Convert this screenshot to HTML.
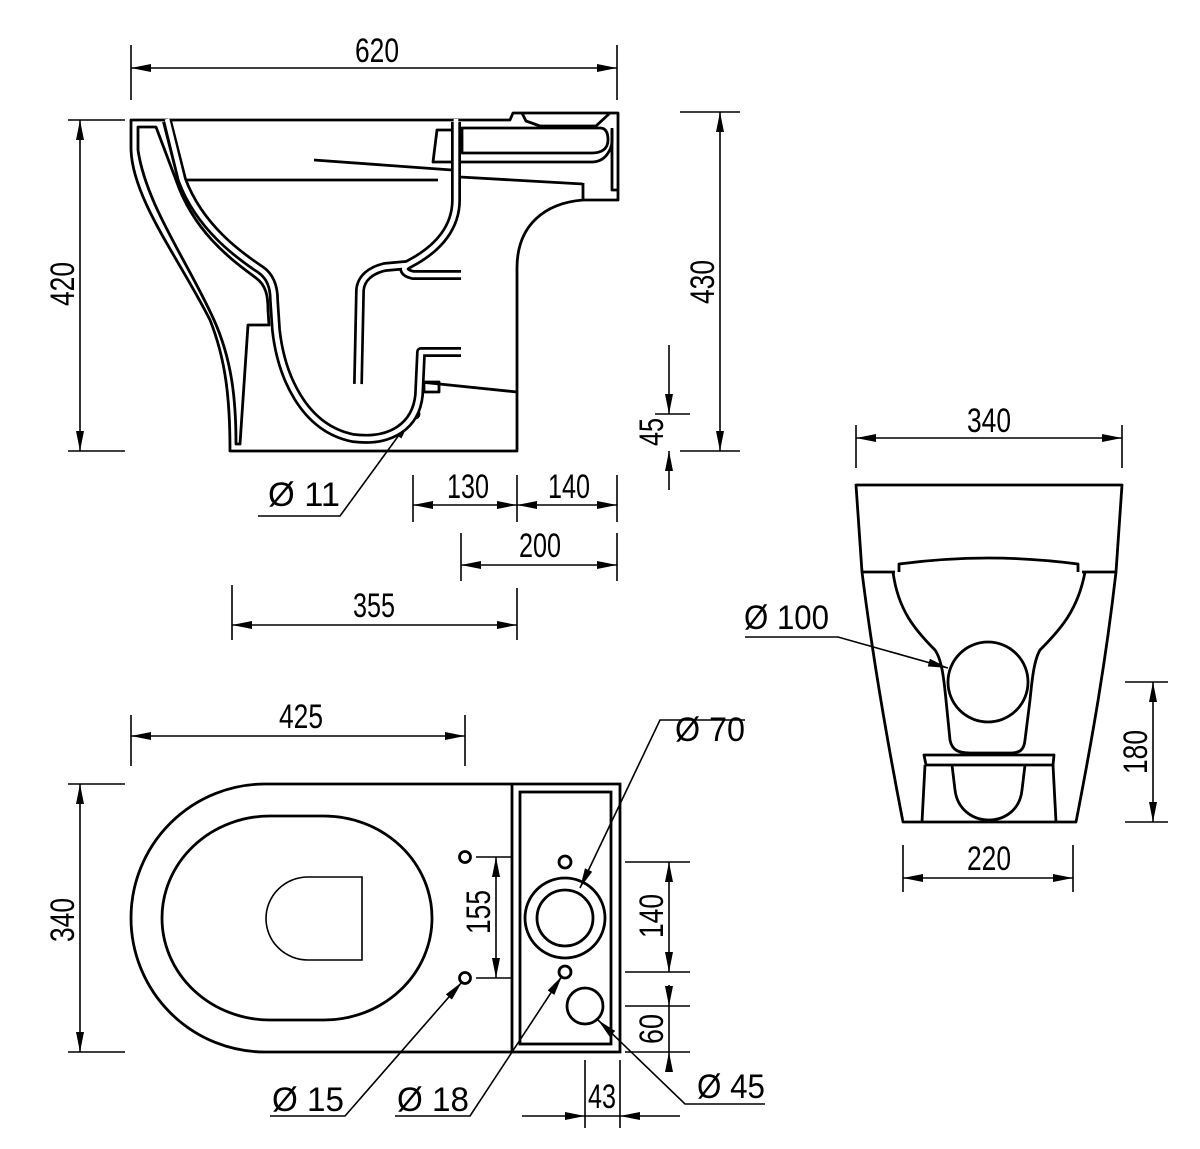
<!DOCTYPE html>
<html><head><meta charset="utf-8"><style>
html,body{margin:0;padding:0;background:#fff;}
svg{display:block;}
text{font-family:"Liberation Sans Narrow","Liberation Sans",sans-serif;font-size:34px;fill:#000;}
</style></head><body>
<svg width="1200" height="1149" viewBox="0 0 1200 1149" xmlns="http://www.w3.org/2000/svg">
<defs>
<marker id="a" viewBox="0 0 20 8" refX="20" refY="4" markerWidth="20" markerHeight="8" markerUnits="userSpaceOnUse" orient="auto-start-reverse"><path d="M0,0 L20,4 L0,8 Z" fill="#000"/></marker>
</defs>
<g fill="none" stroke="#000" stroke-width="1.6">
<line x1="131" y1="45" x2="131" y2="100"/><line x1="617" y1="45" x2="617" y2="100"/>
<line x1="131" y1="68" x2="617" y2="68" marker-start="url(#a)" marker-end="url(#a)"/>
<line x1="68" y1="120" x2="125" y2="120"/><line x1="68" y1="451" x2="125" y2="451"/>
<line x1="80" y1="120" x2="80" y2="451" marker-start="url(#a)" marker-end="url(#a)"/>
<line x1="680" y1="112" x2="740" y2="112"/><line x1="680" y1="451" x2="740" y2="451"/>
<line x1="720" y1="112" x2="720" y2="451" marker-start="url(#a)" marker-end="url(#a)"/>
<line x1="655" y1="414" x2="690" y2="414"/>
<line x1="669" y1="345" x2="669" y2="414" marker-end="url(#a)"/>
<line x1="669" y1="490" x2="669" y2="451" marker-end="url(#a)"/>
<line x1="413" y1="475" x2="413" y2="522"/><line x1="517" y1="475" x2="517" y2="522"/><line x1="617" y1="475" x2="617" y2="522"/>
<line x1="413" y1="505" x2="517" y2="505" marker-start="url(#a)" marker-end="url(#a)"/>
<line x1="517" y1="505" x2="617" y2="505" marker-start="url(#a)" marker-end="url(#a)"/>
<line x1="461" y1="533" x2="461" y2="581"/><line x1="617" y1="533" x2="617" y2="581"/>
<line x1="461" y1="565" x2="617" y2="565" marker-start="url(#a)" marker-end="url(#a)"/>
<line x1="232" y1="585" x2="232" y2="640"/><line x1="517" y1="588" x2="517" y2="640"/>
<line x1="232" y1="625" x2="517" y2="625" marker-start="url(#a)" marker-end="url(#a)"/>
<polyline points="258,516 340,516 410,420" marker-end="url(#a)"/>
</g>
<g fill="none" stroke="#000" stroke-width="2.8" stroke-linejoin="round">
<path d="M131,120 H510 L513,113 H618 V200 H583 C545,203 517,225 517,268 V451 H230 C230,400 226,360 210,320 C180,260 133,200 131,150 Z"/>
<path d="M138,127 H156 L176,180 C195,235 235,262 256,278 C266,285 268,296 268,310 L269,325 H248 L240,444 H236 C236,400 232,360 214,320 C188,262 146,205 138,150 Z"/>
<path d="M437,130 H453 V162 H433 Z"/>
<path d="M462,128 H600 C607,128 608,135 608,140 C608,150 600,153 592,153 H462 Z"/>
<path d="M460,162 H592 C605,162 612,150 612,140 V128"/>
<path d="M612,130 V190 H618"/>
<path d="M522,113 L526,121 L540,126 H596 L610,113"/>
<line x1="583" y1="183" x2="583" y2="200"/>
<path d="M420,382 L517,392"/>
<rect x="424" y="382" width="15" height="10"/>
<circle cx="415" cy="414" r="4"/>
<line x1="182" y1="180" x2="438" y2="180"/>
<line x1="314" y1="160" x2="452" y2="170"/>
<line x1="460" y1="177" x2="583" y2="184"/>
</g>
<g fill="none" stroke-linejoin="round" stroke-linecap="butt">
<g stroke="#000" stroke-width="10">
<path d="M167,121 L182,180 C200,228 240,256 261,270 C271,277 274,288 274,300 L276,330 C281,375 303,428 353,438 C392,443 416,425 419,395 L421,352 H461"/>
<path d="M461,275 H413 C404,273 401,268 409,264 C440,248 456,226 456,200 L456,122"/>
<path d="M358,384 L360,290 C361,278 371,270 385,267 L407,265"/>
</g>
<g stroke="#fff" stroke-width="4.6">
<path d="M167,119 L182,180 C200,228 240,256 261,270 C271,277 274,288 274,300 L276,330 C281,375 303,428 353,438 C392,443 416,425 419,395 L421,352 H464"/>
<path d="M464,275 H413 C404,273 401,268 409,264 C440,248 456,226 456,200 L456,119"/>
<path d="M358,386 L360,290 C361,278 371,270 385,267 L407,265"/>
</g>
</g>

<g fill="none" stroke="#000" stroke-width="1.6">
<line x1="856" y1="425" x2="856" y2="468"/><line x1="1122" y1="425" x2="1122" y2="468"/>
<line x1="856" y1="438" x2="1122" y2="438" marker-start="url(#a)" marker-end="url(#a)"/>
<line x1="1125" y1="682" x2="1168" y2="682"/><line x1="1125" y1="822" x2="1168" y2="822"/>
<line x1="1153" y1="682" x2="1153" y2="822" marker-start="url(#a)" marker-end="url(#a)"/>
<line x1="903" y1="845" x2="903" y2="892"/><line x1="1073" y1="845" x2="1073" y2="892"/>
<line x1="903" y1="878" x2="1073" y2="878" marker-start="url(#a)" marker-end="url(#a)"/>
<polyline points="745,637 838,637 948,668" marker-end="url(#a)"/>
</g>
<g fill="none" stroke="#000" stroke-width="2.8" stroke-linejoin="round">
<path d="M856,485 H1122 L1116,572 C1106,660 1092,740 1076,822 H903 C887,740 873,660 862,572 Z"/>
<line x1="862" y1="572" x2="895" y2="572"/><line x1="1082" y1="572" x2="1116" y2="572"/>
<path d="M899,572 V564 C960,556 1016,556 1078,564 V572"/>
<path d="M893,572 C898,610 915,630 935,650 C942,660 944,680 946,700 L950,740 C952,750 958,753 970,753 H1010 C1020,753 1024,750 1025,740 L1030,700 C1032,680 1034,660 1040,650 C1060,630 1078,610 1085,572"/>
<circle cx="988" cy="682" r="40"/>
<path d="M924,755 H1054 L1053,765 H926 Z"/>
<path d="M925,765 L922,822 M1053,765 L1056,822"/>
<path d="M952,765 L955,790 C960,830 1018,830 1022,790 L1025,765"/>
</g>

<g fill="none" stroke="#000" stroke-width="1.6">
<line x1="131" y1="715" x2="131" y2="766"/><line x1="465" y1="715" x2="465" y2="766"/>
<line x1="131" y1="736" x2="465" y2="736" marker-start="url(#a)" marker-end="url(#a)"/>
<line x1="68" y1="784" x2="125" y2="784"/><line x1="68" y1="1052" x2="125" y2="1052"/>
<line x1="80" y1="784" x2="80" y2="1052" marker-start="url(#a)" marker-end="url(#a)"/>
<line x1="476" y1="857" x2="511" y2="857"/><line x1="476" y1="978" x2="511" y2="978"/>
<line x1="496" y1="857" x2="496" y2="978" marker-start="url(#a)" marker-end="url(#a)"/>
<line x1="625" y1="862" x2="690" y2="862"/><line x1="625" y1="972" x2="690" y2="972"/>
<line x1="669" y1="862" x2="669" y2="972" marker-start="url(#a)" marker-end="url(#a)"/>
<line x1="625" y1="1006" x2="690" y2="1006"/><line x1="625" y1="1052" x2="690" y2="1052"/>
<line x1="669" y1="1006" x2="669" y2="1052"/>
<line x1="669" y1="985" x2="669" y2="1006" marker-end="url(#a)"/>
<line x1="669" y1="1072" x2="669" y2="1052" marker-end="url(#a)"/>
<line x1="585" y1="1060" x2="585" y2="1128"/><line x1="620" y1="1060" x2="620" y2="1128"/>
<line x1="522" y1="1116" x2="585" y2="1116" marker-end="url(#a)"/>
<line x1="680" y1="1116" x2="620" y2="1116" marker-end="url(#a)"/>
<line x1="585" y1="1116" x2="620" y2="1116"/>
<polyline points="270,1116 345,1116 462,982" marker-end="url(#a)"/>
<polyline points="395,1116 470,1116 562,976" marker-end="url(#a)"/>
<polyline points="765,1104 685,1104 598,1020" marker-end="url(#a)"/>
<polyline points="745,720 660,720 580,888" marker-end="url(#a)"/>
</g>
<g fill="none" stroke="#000" stroke-width="2.8">
<path d="M265,784 H620 V1052 H265 A134,134 0 0 1 265,784 Z"/>
<line x1="512" y1="784" x2="512" y2="1052"/>
<rect x="520" y="792" width="91" height="252"/>
<rect x="162" y="816" width="270" height="204" rx="108" ry="102"/>
<path d="M362,877 V960 H308 A42,41.5 0 0 1 308,877 Z" stroke-width="1.6"/>
<circle cx="565" cy="918" r="40"/><circle cx="565" cy="918" r="28"/>
<circle cx="565" cy="862" r="6"/><circle cx="565" cy="972" r="6"/>
<circle cx="465" cy="857" r="5.5"/><circle cx="465" cy="978" r="5.5"/>
<circle cx="585" cy="1006" r="18"/>
</g>

<text x="355" y="62" textLength="44" lengthAdjust="spacingAndGlyphs">620</text>
<text transform="translate(74,306) rotate(-90)" textLength="44" lengthAdjust="spacingAndGlyphs">420</text>
<text transform="translate(714,304) rotate(-90)" textLength="44" lengthAdjust="spacingAndGlyphs">430</text>
<text transform="translate(663,446) rotate(-90)" textLength="28" lengthAdjust="spacingAndGlyphs">45</text>
<text x="447" y="498" textLength="42" lengthAdjust="spacingAndGlyphs">130</text>
<text x="548" y="498" textLength="42" lengthAdjust="spacingAndGlyphs">140</text>
<text x="519" y="557" textLength="42" lengthAdjust="spacingAndGlyphs">200</text>
<text x="353" y="617" textLength="42" lengthAdjust="spacingAndGlyphs">355</text>
<text x="268" y="506" textLength="72" lengthAdjust="spacingAndGlyphs">Ø 11</text>
<text x="967" y="432" textLength="44" lengthAdjust="spacingAndGlyphs">340</text>
<text x="744" y="629" textLength="85" lengthAdjust="spacingAndGlyphs">Ø 100</text>
<text transform="translate(1147,774) rotate(-90)" textLength="44" lengthAdjust="spacingAndGlyphs">180</text>
<text x="967" y="870" textLength="44" lengthAdjust="spacingAndGlyphs">220</text>
<text x="279" y="728" textLength="44" lengthAdjust="spacingAndGlyphs">425</text>
<text transform="translate(74,942) rotate(-90)" textLength="44" lengthAdjust="spacingAndGlyphs">340</text>
<text transform="translate(490,934) rotate(-90)" textLength="44" lengthAdjust="spacingAndGlyphs">155</text>
<text transform="translate(663,938) rotate(-90)" textLength="44" lengthAdjust="spacingAndGlyphs">140</text>
<text transform="translate(663,1044) rotate(-90)" textLength="30" lengthAdjust="spacingAndGlyphs">60</text>
<text x="588" y="1108" textLength="28" lengthAdjust="spacingAndGlyphs">43</text>
<text x="272" y="1111" textLength="72" lengthAdjust="spacingAndGlyphs">Ø 15</text>
<text x="397" y="1111" textLength="72" lengthAdjust="spacingAndGlyphs">Ø 18</text>
<text x="697" y="1098" textLength="68" lengthAdjust="spacingAndGlyphs">Ø 45</text>
<text x="675" y="741" textLength="70" lengthAdjust="spacingAndGlyphs">Ø 70</text>
</svg>
</body></html>
